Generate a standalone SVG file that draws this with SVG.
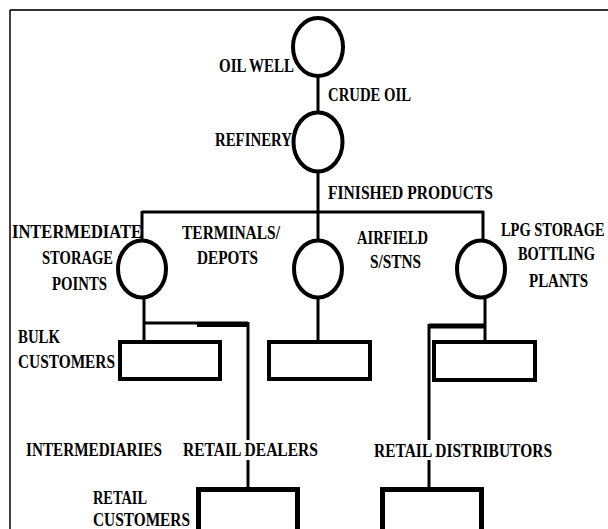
<svg xmlns="http://www.w3.org/2000/svg" width="608" height="529" viewBox="0 0 608 529">
<style>
.n{fill:none;stroke:#000;stroke-width:4}
.c line,.c path{stroke:#000;stroke-width:3;fill:none}
text{font-family:"Liberation Serif","Times New Roman",serif;font-weight:bold;font-size:19px;fill:#000}
</style>
<rect width="608" height="529" fill="#fff"/>
<g id="frame">
<line x1="10" y1="10" x2="608" y2="10" stroke="#333" stroke-width="2"/>
<line x1="10" y1="10" x2="10" y2="529" stroke="#000" stroke-width="1.5"/>
</g>
<g id="connectors" class="c">
<line x1="318" y1="76" x2="318" y2="113"/>
<line x1="318" y1="171" x2="318" y2="212"/>
<line x1="142" y1="212" x2="484" y2="212"/>
<line x1="142" y1="211" x2="142" y2="241"/>
<line x1="318" y1="211" x2="318" y2="241"/>
<line x1="483" y1="211" x2="483" y2="241"/>
<line x1="144" y1="297" x2="144" y2="341"/>
<line x1="318" y1="297" x2="318" y2="341"/>
<line x1="485" y1="297" x2="485" y2="340"/>
<line x1="144" y1="323" x2="248" y2="323"/>
<line x1="197" y1="325" x2="248" y2="325" style="stroke-width:4"/>
<line x1="248" y1="322" x2="248" y2="440"/>
<line x1="248" y1="460" x2="248" y2="488"/>
<line x1="429" y1="326" x2="485" y2="326" style="stroke-width:5"/>
<line x1="429" y1="324" x2="429" y2="440"/>
<line x1="429" y1="460" x2="429" y2="488"/>
</g>
<g id="oil-well"><ellipse class="n" cx="318" cy="47" rx="25" ry="29"/><text x="219" y="72" textLength="75" lengthAdjust="spacingAndGlyphs">OIL WELL</text></g>
<g id="crude-oil"><text x="328" y="101" textLength="83" lengthAdjust="spacingAndGlyphs">CRUDE OIL</text></g>
<g id="refinery"><ellipse class="n" cx="318" cy="142" rx="24.5" ry="29.5"/><text x="215" y="146" textLength="77" lengthAdjust="spacingAndGlyphs">REFINERY</text></g>
<g id="finished-products"><text x="328" y="199" textLength="165" lengthAdjust="spacingAndGlyphs">FINISHED PRODUCTS</text></g>
<g id="intermediate-storage"><ellipse class="n" cx="142" cy="269" rx="24" ry="28.5"/>
<text x="12" y="238" textLength="130" lengthAdjust="spacingAndGlyphs">INTERMEDIATE</text>
<text x="42" y="264" textLength="71" lengthAdjust="spacingAndGlyphs">STORAGE</text>
<text x="52" y="290" textLength="55" lengthAdjust="spacingAndGlyphs">POINTS</text></g>
<g id="terminals-depots"><ellipse class="n" cx="318" cy="269" rx="24" ry="28.5"/>
<text x="182" y="239" textLength="98" lengthAdjust="spacingAndGlyphs">TERMINALS/</text>
<text x="197" y="264" textLength="61" lengthAdjust="spacingAndGlyphs">DEPOTS</text></g>
<g id="airfield"><text x="357" y="244" textLength="71" lengthAdjust="spacingAndGlyphs">AIRFIELD</text>
<text x="370" y="268" textLength="51" lengthAdjust="spacingAndGlyphs">S/STNS</text></g>
<g id="lpg-storage"><ellipse class="n" cx="481" cy="269" rx="24" ry="28.5"/>
<g transform="translate(501,236) scale(0.76,1)"><text x="0" y="0">LPG STORAGE</text></g>
<g transform="translate(518,260) scale(0.76,1)"><text x="0" y="0">BOTTLING</text></g>
<text x="529" y="287" textLength="59" lengthAdjust="spacingAndGlyphs">PLANTS</text></g>
<g id="bulk-customers"><rect class="n" x="120" y="342" width="100" height="37"/>
<text x="18" y="343" textLength="42" lengthAdjust="spacingAndGlyphs">BULK</text>
<text x="18" y="368" textLength="97" lengthAdjust="spacingAndGlyphs">CUSTOMERS</text></g>
<g id="box-middle"><rect class="n" x="269" y="342" width="101" height="37"/></g>
<g id="box-right"><rect class="n" x="434" y="342" width="101" height="38"/></g>
<g id="intermediaries"><text x="26" y="456" textLength="136" lengthAdjust="spacingAndGlyphs">INTERMEDIARIES</text></g>
<g id="retail-dealers"><text x="183" y="456" textLength="135" lengthAdjust="spacingAndGlyphs">RETAIL DEALERS</text></g>
<g id="retail-distributors"><text x="374" y="457" textLength="178" lengthAdjust="spacingAndGlyphs">RETAIL DISTRIBUTORS</text></g>
<g id="retail-customers"><rect x="198.5" y="489.5" width="99" height="50" fill="none" stroke="#000" stroke-width="5"/>
<text x="93" y="504" textLength="54" lengthAdjust="spacingAndGlyphs">RETAIL</text>
<text x="93" y="526" textLength="97" lengthAdjust="spacingAndGlyphs">CUSTOMERS</text></g>
<g id="box-bottom-right"><rect x="382.5" y="489.5" width="99" height="50" fill="none" stroke="#000" stroke-width="5"/></g>
</svg>
